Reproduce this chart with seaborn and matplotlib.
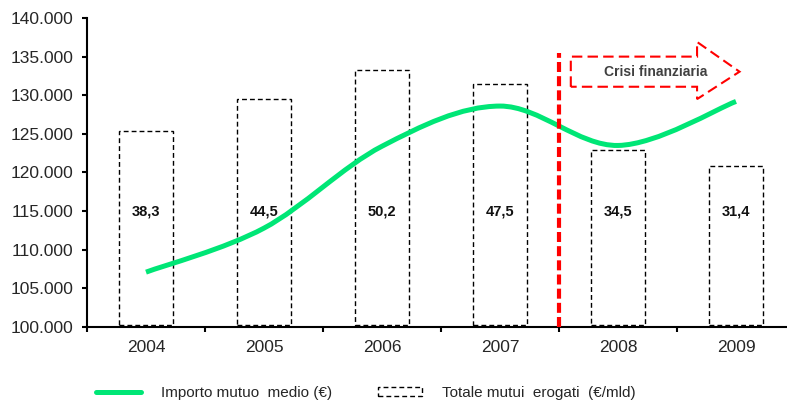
import numpy as np
import pandas as pd
import seaborn as sns
import matplotlib
matplotlib.use('Agg')
import matplotlib.pyplot as plt
from matplotlib.path import Path
import matplotlib.patches as mpatches
from matplotlib.ticker import FuncFormatter, FixedLocator

# Data
years = ['2004', '2005', '2006', '2007', '2008', '2009']
importo_medio = [107.1, 112.8, 123.4, 128.6, 123.5, 129.2]   # thousand euro
totale_erogati = [38.3, 44.5, 50.2, 47.5, 34.5, 31.4]        # billion euro
bar_labels = ['38,3', '44,5', '50,2', '47,5', '34,5', '31,4']

df = pd.DataFrame({'Anno': years, 'Importo': importo_medio, 'Totale': totale_erogati})

sns.set_style('white')
plt.rcParams['font.family'] = ['Liberation Sans', 'DejaVu Sans']

fig = plt.figure(figsize=(7.87, 4.01), dpi=100)
ax = fig.add_axes([87 / 787, 1 - 327 / 401, 708 / 787, 309 / 401])
axb = ax.twinx()

# Bars: total loans, on hidden secondary scale
sns.barplot(data=df, x='Anno', y='Totale', ax=axb, fill=False, width=0.46,
            color='black', linewidth=1.0, err_kws={'linewidth': 0})
for p in axb.patches:
    p.set_linestyle((0, (3.5, 2.2)))
    p.set_edgecolor('black')
axb.set_ylim(-0.4, 60.5)
axb.axis('off')

# Bring line axis on top
ax.set_zorder(axb.get_zorder() + 1)
ax.patch.set_visible(False)

# Smooth line (Catmull-Rom as cubic Bezier path)
xs = np.arange(len(years), dtype=float)
ys = np.array(importo_medio)
pts = np.column_stack([xs, ys])
ext = np.vstack([pts[0], pts, pts[-1]])
verts = [tuple(pts[0])]
codes = [Path.MOVETO]
for i in range(len(pts) - 1):
    p0, p1, p2, p3 = ext[i], ext[i + 1], ext[i + 2], ext[i + 3]
    c1 = p1 + (p2 - p0) / 6
    c2 = p2 - (p3 - p1) / 6
    verts += [tuple(c1), tuple(c2), tuple(p2)]
    codes += [Path.CURVE4] * 3
ax.add_patch(mpatches.PathPatch(Path(verts, codes), facecolor='none',
                                edgecolor='#00E676', lw=3.6, capstyle='butt', zorder=3))

ax.set_xlim(-0.5, 5.5)
ax.set_ylim(100, 140)

# Bar value labels
for i, lab in enumerate(bar_labels):
    ax.text(i, 115, lab, ha='center', va='center', fontsize=10.5,
            fontweight='bold', color='#111111')

# Crisis marker
ax.axvline(3.5, ymin=0, ymax=(135.5 - 100) / 40, color='#FF0000', lw=3,
           dashes=(2.4, 1.0), zorder=4)
arrow = [(3.6, 131.1), (3.6, 135.0), (4.67, 135.0), (4.67, 136.9),
         (5.03, 133.05), (4.67, 129.5), (4.67, 131.1), (3.6, 131.1)]
ax.add_patch(mpatches.Polygon(arrow, closed=True, facecolor='none',
                              edgecolor='#FF0000', lw=1.5,
                              linestyle=(0, (5, 2.5)), zorder=4))
ax.text(4.32, 133.0, 'Crisi finanziaria', ha='center', va='center',
        fontsize=10, fontweight='bold', color='#404040')

# Axes styling
ax.yaxis.set_major_locator(FixedLocator(np.arange(100, 141, 5)))
ax.yaxis.set_major_formatter(FuncFormatter(lambda v, _: f'{int(v)}.000'))
ax.set_xticks(xs)
ax.set_xticklabels(years)
ax.xaxis.set_minor_locator(FixedLocator(np.arange(-0.5, 5.6, 1)))
ax.tick_params(axis='x', which='major', length=0, pad=9, labelsize=12.5)
ax.tick_params(axis='x', which='minor', length=3.6, width=1.5, direction='out',
               bottom=True, color='black')
ax.tick_params(axis='y', length=3.6, width=1.5, direction='out', left=True,
               pad=6, labelsize=12.5, color='black')
for side in ['top', 'right']:
    ax.spines[side].set_visible(False)
for side in ['left', 'bottom']:
    ax.spines[side].set_color('black')
    ax.spines[side].set_linewidth(1.5)
ax.set_xlabel('')
ax.set_ylabel('')

# Legend
h_line = plt.Line2D([], [], color='#00E676', lw=3.6)
h_bar = mpatches.Patch(facecolor='none', edgecolor='black', lw=1.0,
                       linestyle=(0, (3.5, 2.2)))
fig.legend([h_line, h_bar], ['Importo mutuo  medio (€)', 'Totale mutui  erogati  (€/mld)'],
           loc='center', bbox_to_anchor=(0.465, 0.02), ncol=2, frameon=False,
           fontsize=11, handlelength=2.9, handletextpad=1.3, columnspacing=3.0,
           handleheight=0.6)

fig.savefig('out.png', dpi=100)
